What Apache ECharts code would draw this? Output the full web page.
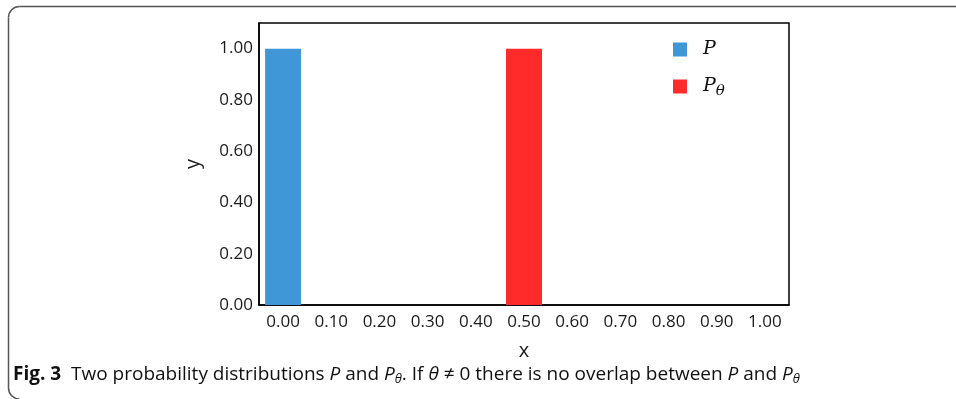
<!DOCTYPE html>
<html><head><meta charset="utf-8">
<script src="https://cdn.jsdelivr.net/npm/echarts@6/dist/echarts.min.js"></script>
<style>html,body{margin:0;padding:0;background:#fff}#c{width:956px;height:399px}</style>
</head><body><div id="c"></div>
<script>
const categories = ['0.00','0.10','0.20','0.30','0.40','0.50','0.60','0.70','0.80','0.90','1.00'];
const pValues = [1, 0, 0, 0, 0, 0, 0, 0, 0, 0, 0];
const pThetaValues = [0, 0, 0, 0, 0, 1, 0, 0, 0, 0, 0];
const yTicks = [0, 0.2, 0.4, 0.6, 0.8, 1.0];

const chart = echarts.init(document.getElementById('c'));
const F = 'Open Sans';
const frame = { stroke: '#555', lineWidth: 1.5, fill: null };
chart.setOption({
  animation: false,
  grid: { left: 259, top: 23, width: 530, height: 282, show: true, borderColor: '#000', borderWidth: 1.5, backgroundColor: '#fff' },
  legend: {
    orient: 'vertical', left: 668, top: 35, itemWidth: 14, itemHeight: 14, itemGap: 18,
    icon: 'rect',
    data: ['P', 'Pθ'],
    formatter: function (n) { return n === 'P' ? '{i|P}' : '{i|P}{s|θ}'; },
    textStyle: { padding: [0,0,0,11], rich: {
      i: { fontFamily: 'DejaVu Serif', fontStyle: 'italic', fontSize: 19, color: '#111' },
      s: { fontFamily: 'DejaVu Serif', fontStyle: 'italic', fontSize: 15, color: '#111', verticalAlign: 'bottom', padding: [10,0,0,0] }
    } }
  },
  xAxis: {
    type: 'category', data: categories, name: 'x', nameLocation: 'middle', nameGap: 36,
    nameTextStyle: { fontFamily: F, fontSize: 20, color: '#1a1a1a' },
    axisLine: { lineStyle: { color: '#000', width: 1.5 } }, axisTick: { show: false },
    axisLabel: { fontFamily: F, fontSize: 17, color: '#1a1a1a', margin: 9, interval: 0 }
  },
  yAxis: {
    type: 'value', min: 0, max: 1.1, interval: 0.2, name: 'y', nameLocation: 'middle', nameGap: 56,
    nameTextStyle: { fontFamily: F, fontSize: 20, color: '#1a1a1a' },
    axisLine: { show: true, lineStyle: { color: '#000', width: 1.5 } }, axisTick: { show: false },
    splitLine: { show: false },
    axisLabel: { fontFamily: F, fontSize: 17, color: '#1a1a1a', margin: 6,
      formatter: function (v) { return yTicks.some(t => Math.abs(t - v) < 1e-6) ? v.toFixed(2) : ''; } }
  },
  series: [
    { name: 'P', type: 'bar', data: pValues, barWidth: 36, barGap: '-100%', itemStyle: { color: '#3f97d8' } },
    { name: 'Pθ', type: 'bar', data: pThetaValues, barWidth: 36, itemStyle: { color: '#ff2b2b' } }
  ],
  graphic: [
    { type: 'line', shape: { x1: 19.5, y1: 6.5, x2: 960, y2: 6.5 }, style: frame },
    { type: 'line', shape: { x1: 8.5, y1: 17.5, x2: 8.5, y2: 388 }, style: frame },
    { type: 'arc', shape: { cx: 19.5, cy: 17.5, r: 11, startAngle: Math.PI, endAngle: Math.PI * 1.5, clockwise: true }, style: frame },
    { type: 'arc', shape: { cx: 19.5, cy: 388, r: 11, startAngle: Math.PI * 0.5, endAngle: Math.PI, clockwise: true }, style: frame },
    { type: 'text', left: 13, top: 365, style: {
      text: '{b|Fig. 3}  Two probability distributions {i|P} and {i|P}{s|θ}. If {i|θ} ≠ 0 there is no overlap between {i|P} and {i|P}{s|θ}',
      rich: {
        b: { fontFamily: F, fontWeight: 'bold', fontSize: 19, fill: '#111' },
        i: { fontFamily: F, fontStyle: 'italic', fontSize: 19, fill: '#111' },
        s: { fontFamily: F, fontStyle: 'italic', fontSize: 13, fill: '#111', verticalAlign: 'bottom', padding: [9,0,0,0] }
      },
      fontFamily: F, fontSize: 19, fill: '#111'
    } }
  ]
});
</script></body></html>
